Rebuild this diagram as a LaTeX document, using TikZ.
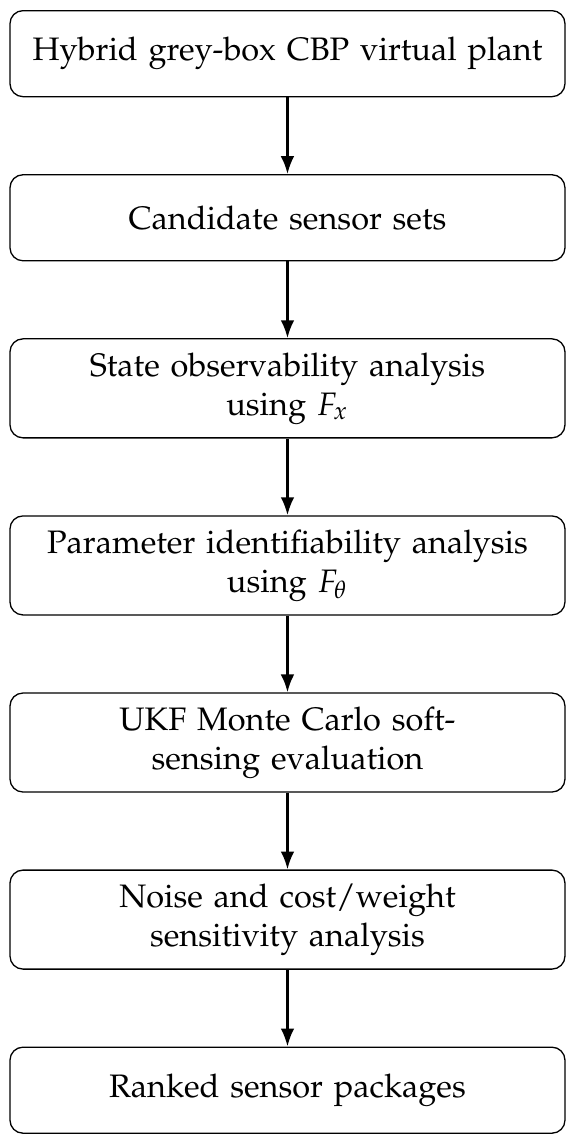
\documentclass[tikz,border=0pt]{standalone}
\usepackage{amsmath}
\usepackage[T1]{fontenc}
\usepackage{mathpazo}
\usepackage{tikz}
\usetikzlibrary{arrows.meta, positioning}

\begin{document}
\begin{tikzpicture}[
  node distance=0.83cm,
  flowbox/.style={
    rectangle, rounded corners=4pt,
    draw=black, thin,
    text width=5.6cm, align=center,
    inner xsep=0.2cm, inner ysep=4.2pt,
    minimum height=0.93cm, font=\normalsize
  },
  arr/.style={-{Latex[length=5.5pt,width=4.2pt]}, thick, draw=black}
]

%% fixed frame (margins of the reference)
\useasboundingbox (-3.108cm,0.108cm) rectangle (3.108cm,-12.238cm);

%% Vertical pipeline: top to bottom
\node[flowbox, anchor=north] (plant) at (0,0) {Hybrid grey-box CBP virtual plant};
\node[flowbox, below=of plant]   (sensors) {Candidate sensor sets};
\node[flowbox, below=of sensors] (observ)  {State observability analysis\\using $F_x$};
\node[flowbox, below=of observ]  (ident)   {Parameter identifiability analysis\\using $F_\theta$};
\node[flowbox, below=of ident]   (ukf)     {UKF Monte Carlo soft-\\sensing evaluation};
\node[flowbox, below=of ukf]     (sens)    {Noise and cost/weight\\sensitivity analysis};
\node[flowbox, below=of sens]    (ranked)  {Ranked sensor packages};

%% Main flow arrows
\draw[arr] (plant)   -- (sensors);
\draw[arr] (sensors) -- (observ);
\draw[arr] (observ)  -- (ident);
\draw[arr] (ident)   -- (ukf);
\draw[arr] (ukf)     -- (sens);
\draw[arr] (sens)    -- (ranked);

\end{tikzpicture}
\end{document}
